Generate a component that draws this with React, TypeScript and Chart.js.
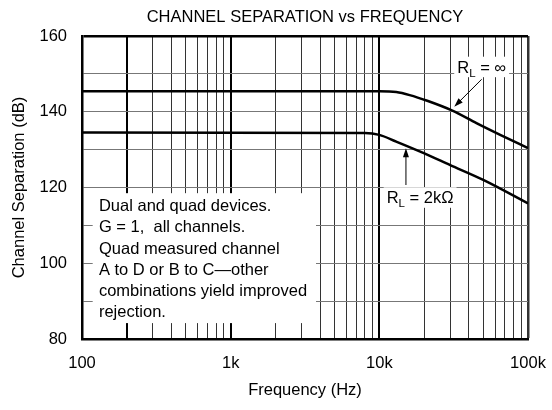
import React, { useEffect, useRef } from 'react';
import { Chart, registerables } from 'chart.js';

Chart.register(...registerables);

const FONT = '"Liberation Sans", Arial, Helvetica, sans-serif';

const titleText = 'CHANNEL SEPARATION vs FREQUENCY';
const xAxisTitle = 'Frequency (Hz)';
const yAxisTitle = 'Channel Separation (dB)';

// tick labels
const xTickValues = [100, 1000, 10000, 100000];
const xTickLabels = ['100', '1k', '10k', '100k'];
const xDecades = [100, 1000, 10000];
const xMultipliers = [1, 2, 3, 4, 5, 6, 7, 8, 9];
const xBoldGrid = [200, 1000, 10000];
const yTickValues = [80, 100, 120, 140, 160];
const yGridValues = [80, 90, 100, 110, 120, 130, 140, 150, 160];

// series: R_L = infinity
const rlInfFreq = [100, 10000, 13000, 16000, 21000, 31000, 45000, 65000, 100000];
const rlInfDb = [145.4, 145.4, 145.2, 144.4, 142.9, 140.3, 137.0, 133.9, 130.4];
// series: R_L = 2k
const rl2kFreq = [100, 8000, 10000, 13000, 19000, 30000, 50000, 100000];
const rl2kDb = [134.5, 134.4, 133.9, 132.1, 129.4, 125.9, 122.0, 115.8];

const noteLines = [
  'Dual and quad devices.',
  'G = 1,  all channels.',
  'Quad measured channel',
  'A to D or B to C\u2014other',
  'combinations yield improved',
  'rejection.',
];

const xGridValues = [...xDecades.flatMap((d) => xMultipliers.map((m) => d * m)), 100000];

// annotation anchors in data space
const noteBox = { x0: 118, x1: 3750, y0: 118.5, y1: 84.2 };
const noteText = { x: 130, y: 113.8 };
const labelInf = { x: 48800, y: 150.31, sub: 'L', rest: ' = \u221E' };
const label2k = { x: 18800, y: 115.83, sub: 'L', rest: ' = 2k\u03A9' };
const arrowInf = { x0: 48800, y0: 148.57, x1: 31900, y1: 141.33 };
const arrow2k = { x0: 15100, y0: 120.66, x1: 15100, y1: 130.35 };

const TEXT_SIZE = 16.5;
const SUB_SIZE = 11.5;

function measureLabel(ctx: CanvasRenderingContext2D, lab: any) {
  ctx.font = `${TEXT_SIZE}px ${FONT}`;
  const wR = ctx.measureText('R').width;
  const wRest = ctx.measureText(lab.rest).width;
  ctx.font = `${SUB_SIZE}px ${FONT}`;
  const wSub = ctx.measureText(lab.sub).width;
  return { wR, wSub, wRest, total: wR + wSub + wRest };
}

function drawArrow(ctx: CanvasRenderingContext2D, x0: number, y0: number, x1: number, y1: number) {
  const ang = Math.atan2(y1 - y0, x1 - x0);
  const len = 9;
  const hw = 3;
  ctx.beginPath();
  ctx.moveTo(x0, y0);
  ctx.lineTo(x1 - Math.cos(ang) * len * 0.8, y1 - Math.sin(ang) * len * 0.8);
  ctx.lineWidth = 1;
  ctx.strokeStyle = '#000';
  ctx.stroke();
  ctx.beginPath();
  ctx.moveTo(x1, y1);
  ctx.lineTo(x1 - Math.cos(ang) * len - Math.sin(ang) * hw, y1 - Math.sin(ang) * len + Math.cos(ang) * hw);
  ctx.lineTo(x1 - Math.cos(ang) * len + Math.sin(ang) * hw, y1 - Math.sin(ang) * len - Math.cos(ang) * hw);
  ctx.closePath();
  ctx.fillStyle = '#000';
  ctx.fill();
}

const annotationPlugin = {
  id: 'annotations',
  beforeDatasetsDraw(chart: any) {
    const { ctx } = chart;
    const xs = chart.scales.x;
    const ys = chart.scales.y;
    ctx.save();
    ctx.fillStyle = '#fff';
    const l = xs.getPixelForValue(noteBox.x0);
    const r = xs.getPixelForValue(noteBox.x1);
    const t = ys.getPixelForValue(noteBox.y0);
    const b = ys.getPixelForValue(noteBox.y1);
    ctx.fillRect(l, t, r - l, b - t);
    for (const lab of [labelInf, label2k]) {
      const m = measureLabel(ctx, lab);
      const cx = xs.getPixelForValue(lab.x);
      const by = ys.getPixelForValue(lab.y);
      ctx.fillStyle = '#fff';
      ctx.fillRect(cx - m.total / 2 - 3, by - 16, m.total + 6, 20.5);
    }
    ctx.restore();
  },
  afterDatasetsDraw(chart: any) {
    const { ctx } = chart;
    const xs = chart.scales.x;
    const ys = chart.scales.y;
    ctx.save();
    ctx.fillStyle = '#000';
    ctx.textBaseline = 'alphabetic';
    ctx.textAlign = 'left';
    ctx.font = `${TEXT_SIZE}px ${FONT}`;
    const tx = xs.getPixelForValue(noteText.x);
    const ty = ys.getPixelForValue(noteText.y);
    noteLines.forEach((line, i) => {
      ctx.fillText(line, tx, ty + i * 21.3);
    });
    for (const lab of [labelInf, label2k]) {
      const m = measureLabel(ctx, lab);
      const cx = xs.getPixelForValue(lab.x);
      const by = ys.getPixelForValue(lab.y);
      let px = cx - m.total / 2;
      ctx.font = `${TEXT_SIZE}px ${FONT}`;
      ctx.fillText('R', px, by);
      px += m.wR;
      ctx.font = `${SUB_SIZE}px ${FONT}`;
      ctx.fillText(lab.sub, px, by + 4);
      px += m.wSub;
      ctx.font = `${TEXT_SIZE}px ${FONT}`;
      ctx.fillText(lab.rest, px, by);
    }
    for (const a of [arrowInf, arrow2k]) {
      drawArrow(
        ctx,
        xs.getPixelForValue(a.x0),
        ys.getPixelForValue(a.y0),
        xs.getPixelForValue(a.x1),
        ys.getPixelForValue(a.y1)
      );
    }
    ctx.restore();
  },
};

export default function App() {
  const canvasRef = useRef<HTMLCanvasElement | null>(null);

  useEffect(() => {
    const canvas = canvasRef.current;
    if (!canvas) return;
    const chart = new Chart(canvas, {
      type: 'line',
      data: {
        datasets: [
          {
            label: 'RL = inf',
            data: rlInfFreq.map((f, i) => ({ x: f, y: rlInfDb[i] })),
            borderColor: '#000',
            borderWidth: 2.5,
            pointRadius: 0,
            cubicInterpolationMode: 'monotone',
            fill: false,
          },
          {
            label: 'RL = 2k',
            data: rl2kFreq.map((f, i) => ({ x: f, y: rl2kDb[i] })),
            borderColor: '#000',
            borderWidth: 2.5,
            pointRadius: 0,
            cubicInterpolationMode: 'monotone',
            fill: false,
          },
        ],
      },
      options: {
        responsive: false,
        animation: false,
        events: [],
        layout: { padding: { left: 0, right: 24, top: 0, bottom: 0 } },
        plugins: {
          legend: { display: false },
          tooltip: { enabled: false },
          title: {
            display: true,
            text: titleText,
            fullSize: false,
            color: '#000',
            font: { family: FONT, size: TEXT_SIZE, weight: 'normal' },
            padding: { top: 7.5, bottom: 8.7 },
          },
        },
        scales: {
          x: {
            type: 'logarithmic',
            min: 100,
            max: 100000,
            afterBuildTicks: (s: any) => {
              s.ticks = xGridValues.map((v) => ({ value: v }));
            },
            afterFit: (s: any) => {
              s.height = 71;
              s.paddingLeft = 0;
              s.paddingRight = 0;
            },
            ticks: {
              autoSkip: false,
              maxRotation: 0,
              minRotation: 0,
              padding: 15,
              color: '#000',
              font: { family: FONT, size: TEXT_SIZE },
              callback: (v: any) => {
                const i = xTickValues.indexOf(Number(v));
                return i >= 0 ? xTickLabels[i] : '';
              },
            },
            grid: {
              drawTicks: false,
              color: (c: any) => (c.tick && xBoldGrid.includes(c.tick.value) ? '#000' : '#333'),
              lineWidth: (c: any) => {
                const v = c.tick ? c.tick.value : 0;
                if (v === 100000) return 2.5;
                if (xBoldGrid.includes(v)) return 2;
                return 1;
              },
            },
            border: { display: true, width: 2.5, color: '#000' },
            title: {
              display: true,
              text: xAxisTitle,
              color: '#000',
              font: { family: FONT, size: TEXT_SIZE },
              padding: { top: 0, bottom: 10 },
            },
          },
          y: {
            type: 'linear',
            min: 80,
            max: 160,
            afterBuildTicks: (s: any) => {
              s.ticks = yGridValues.map((v) => ({ value: v }));
            },
            afterFit: (s: any) => {
              s.width = 82;
              s.paddingTop = 0;
              s.paddingBottom = 0;
            },
            ticks: {
              padding: 15,
              color: '#000',
              font: { family: FONT, size: TEXT_SIZE },
              callback: (v: any) => (yTickValues.includes(Number(v)) ? String(v) : ''),
            },
            grid: {
              drawTicks: false,
              color: (c: any) => (c.tick && c.tick.value === 160 ? '#000' : '#777'),
              lineWidth: (c: any) => (c.tick && c.tick.value === 160 ? 2.5 : 1),
            },
            border: { display: true, width: 2.5, color: '#000' },
            title: {
              display: true,
              text: yAxisTitle,
              color: '#000',
              font: { family: FONT, size: TEXT_SIZE },
              padding: { top: 10, bottom: 0 },
            },
          },
        },
      } as any,
      plugins: [annotationPlugin],
    });
    return () => chart.destroy();
  }, []);

  return (
    <div style={{ position: 'absolute', left: 0, top: 0, width: 552, height: 410, background: '#fff' }}>
      <canvas ref={canvasRef} width={552} height={410} style={{ display: 'block' }} />
    </div>
  );
}
